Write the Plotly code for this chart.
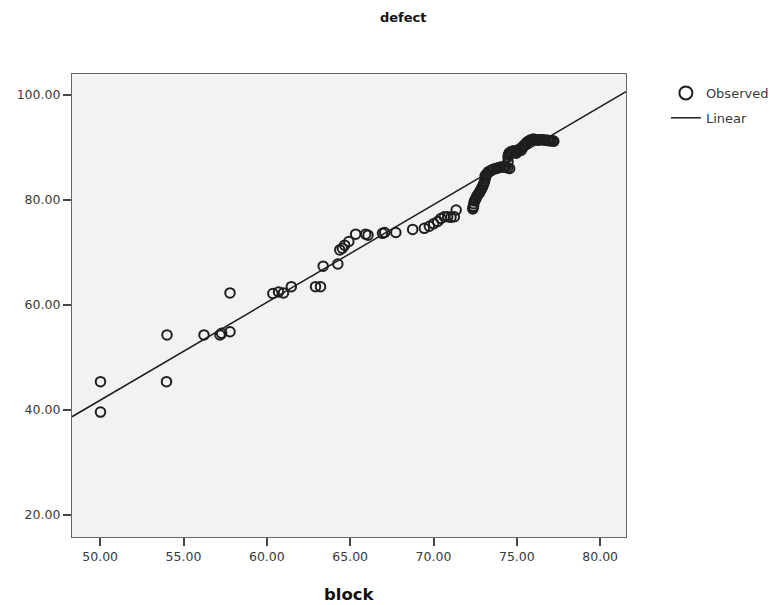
import numpy as np
import plotly.graph_objects as go

# Observed pairs (block, defect)
block = [
    50.02, 50.02, 54.01, 53.98, 56.23, 57.19, 57.29, 57.79, 57.79,
    60.36, 60.70, 61.00, 61.47, 62.92, 63.22, 63.38, 64.26, 64.38,
    64.53, 64.67, 64.92, 65.33, 65.93, 66.07, 66.94, 67.07, 67.74,
    68.75, 69.45, 69.75, 70.01, 70.25, 70.45, 70.65, 70.85, 71.05,
    71.25, 71.36, 72.36, 72.40, 72.46, 72.55, 72.66, 72.76, 72.86,
    72.96, 73.06, 73.10, 73.16, 73.30, 73.36, 73.55, 73.77, 73.95,
    74.17, 74.35, 74.57, 74.47, 74.47, 74.60, 74.67, 74.80, 74.97,
    75.10, 75.27, 75.35, 75.47, 75.60, 75.77, 75.95, 76.10, 76.28,
    76.45, 76.68, 76.85, 76.98, 77.15, 77.22,
    72.38, 72.42, 72.50, 72.60, 72.70, 72.80, 72.90, 73.00, 73.12,
    73.20, 73.45, 73.65, 73.85, 74.05, 74.25, 74.45,
    74.50, 74.55, 74.70, 74.85, 75.00, 75.20, 75.40, 75.55, 75.70,
    75.85, 76.00, 76.20, 76.35, 76.55, 76.75, 76.90, 77.05,
]
defect = [
    45.4, 39.6, 54.3, 45.4, 54.3, 54.3, 54.6, 54.9, 62.3,
    62.2, 62.5, 62.3, 63.5, 63.5, 63.5, 67.4, 67.8, 70.5,
    70.8, 71.4, 72.1, 73.5, 73.5, 73.3, 73.65, 73.8, 73.8,
    74.4, 74.6, 75.0, 75.5, 75.9, 76.5, 76.8, 76.8, 76.7,
    76.8, 78.1, 78.3, 78.8, 79.8, 80.3, 81.0, 81.4, 82.0,
    82.6, 83.5, 84.6, 84.8, 85.4, 85.4, 85.8, 86.0, 86.2,
    86.3, 86.3, 86.0, 87.3, 88.2, 88.8, 89.2, 89.4, 88.9,
    89.3, 89.5, 90.0, 90.5, 91.0, 91.3, 91.5, 91.5, 91.4,
    91.5, 91.4, 91.4, 91.3, 91.3, 91.2,
    78.6, 79.3, 80.0, 80.7, 81.2, 81.7, 82.3, 83.0, 84.2,
    85.0, 85.6, 85.9, 86.1, 86.3, 86.3, 86.1,
    88.6, 89.0, 89.0, 89.1, 89.4, 89.8, 90.3, 90.8, 91.2,
    91.5, 91.6, 91.5, 91.5, 91.5, 91.4, 91.3, 91.3,
]

# Linear model: defect = fit_intercept + fit_slope * block
fit_intercept = -51.26
fit_slope = 1.8625

x_ticks = [50, 55, 60, 65, 70, 75, 80]
y_ticks = [20, 40, 60, 80, 100]
x_range = [48.31, 81.55]
y_range = [15.81, 104.0]

fit_x = np.array(x_range)
fit_y = fit_intercept + fit_slope * fit_x

ink = "#1e1e1e"
font_family = "DejaVu Sans, Verdana, sans-serif"

fig = go.Figure()

fig.add_trace(go.Scatter(
    x=block, y=defect, mode="markers", showlegend=False,
    marker=dict(symbol="circle-open", size=9.5, color=ink,
                line=dict(width=2, color=ink)),
))
fig.add_trace(go.Scatter(
    x=fit_x, y=fit_y, mode="lines", showlegend=False,
    line=dict(color=ink, width=1.5),
))
# legend entries
fig.add_trace(go.Scatter(
    x=[None], y=[None], mode="markers", name="Observed", legendgroup="obs",
    marker=dict(symbol="circle-open", size=13, color=ink,
                line=dict(width=2, color=ink)),
))
fig.add_trace(go.Scatter(
    x=[None], y=[None], mode="lines", name="Linear", legendgroup="lin",
    line=dict(color=ink, width=1.5),
))

axis_common = dict(
    showgrid=False, zeroline=False, showline=True, mirror=True,
    linecolor="#666666", linewidth=1.2, ticks="outside", ticklen=8,
    tickcolor="#444444", tickwidth=1.5,
    tickfont=dict(family=font_family, size=12.5, color="#3a3a3a"),
)

fig.update_layout(
    width=775, height=605,
    margin=dict(l=72, r=149, t=74, b=68, autoexpand=False),
    paper_bgcolor="white", plot_bgcolor="#f2f2f2",
    xaxis=dict(range=x_range, tickvals=x_ticks,
               ticktext=[f"{v:.2f}" for v in x_ticks], **axis_common),
    yaxis=dict(range=y_range, tickvals=y_ticks,
               ticktext=[f"{v:.2f}" for v in y_ticks], **axis_common),
    legend=dict(x=1.072, y=0.9915, xanchor="left", yanchor="top",
                bgcolor="rgba(0,0,0,0)", borderwidth=0,
                traceorder="grouped", tracegroupgap=5,
                font=dict(family=font_family, size=13, color="#3a3a3a")),
    annotations=[
        dict(text="<b>defect</b>", xref="paper", yref="paper",
             x=(403 - 72) / 554, y=(537 - 18) / 463, showarrow=False,
             xanchor="center", yanchor="middle",
             font=dict(family=font_family, size=13, color="#111111")),
        dict(text="<b>block</b>", xref="paper", yref="paper",
             x=0.5, y=-(594 - 537) / 463, showarrow=False,
             xanchor="center", yanchor="middle",
             font=dict(family=font_family, size=16.5, color="#111111")),
    ],
)

fig.write_html("out.html")
